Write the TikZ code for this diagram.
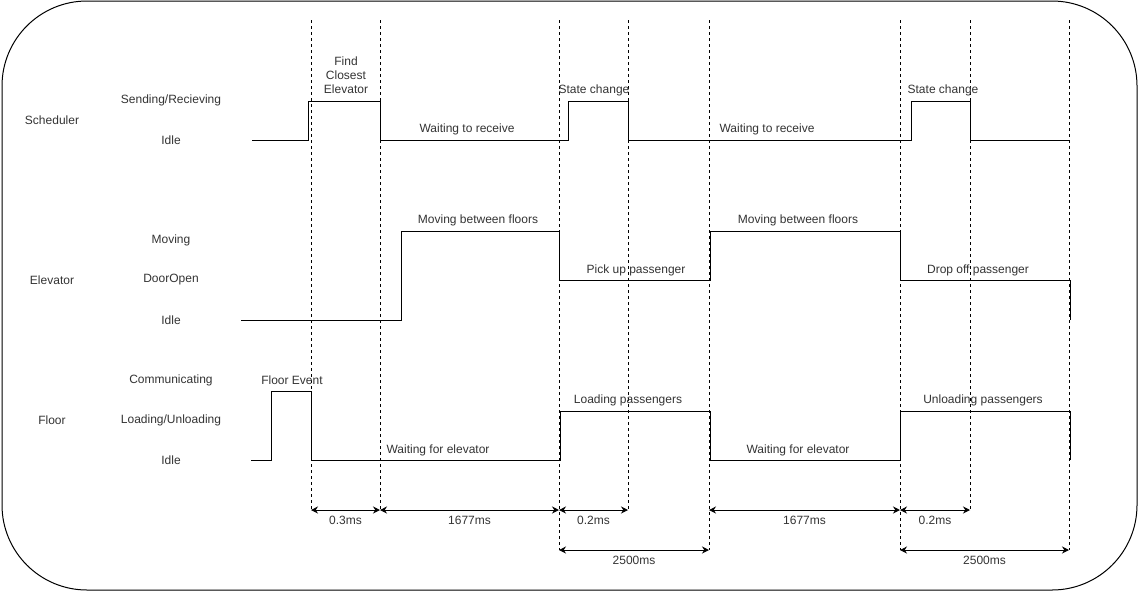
\documentclass[tikz,border=0pt]{standalone}
\usepackage{fontspec}
\setmainfont{Liberation Sans}
\usetikzlibrary{arrows.meta}
\begin{document}
\begin{tikzpicture}[x=1pt, y=-1pt,
    lbl/.style={font=\fontsize{12}{14}\selectfont, text=black!80, inner sep=0pt, align=center},
    sig/.style={line width=1pt, line join=miter},
    guide/.style={dash pattern=on 3pt off 3pt, line width=0.8pt},
    dim/.style={{Stealth[length=7pt,width=7pt]}-{Stealth[length=7pt,width=7pt]}, line width=1pt}]

    \useasboundingbox (0,0) rectangle (1139,592);

    % Frame
    \draw[line width=1pt, rounded corners=85pt] (2,1) rectangle (1137,590);

    % Row names
    \node[lbl] (sched) at (52,120) {Scheduler};
    \node[lbl] (elev) at (52,280) {Elevator};
    \node[lbl] (floor) at (52,420) {Floor};

    % States
    \node[lbl] (ssend) at (171,100) {Sending/Recieving};
    \node[lbl] (sidle) at (171,140) {Idle};
    \node[lbl] (emove) at (171,240) {Moving};
    \node[lbl] (edoor) at (171,280) {DoorOpen};
    \node[lbl] (eidle) at (171,320) {Idle};
    \node[lbl] (fcomm) at (171,380) {Communicating};
    \node[lbl] (fload) at (171,420) {Loading/Unloading};
    \node[lbl] (fidle) at (171,460) {Idle};

    % Time markers
    \foreach \x/\len [count=\i] in {311/510, 380/510, 559/550, 628/510, 709/550, 900/550, 970/510, 1069/550} {
        \coordinate (top\i) at (\x,20);
        \coordinate (bot\i) at (\x,510);
        \coordinate (low\i) at (\x,550);
        \draw[guide] (top\i) -- (\x,\len);
    }

    % Scheduler
    \draw[sig] (252,140) -| (308,101) -| (380,140) -| (568,101) -| (628,140)
        -| (911,101) -| (970,140) -- (1069,140);
    \node[lbl] (find) at (346,75) {Find\\Closest\\Elevator};
    \node[lbl] (wait1) at (467,129) {Waiting to receive};
    \node[lbl] (chg1) at (594,90) {State change};
    \node[lbl] (wait2) at (767,129) {Waiting to receive};
    \node[lbl] (chg2) at (943,90) {State change};

    % Elevator
    \draw[sig] (241,320) -| (401,231) -| (559,280) -| (710,231) -| (900,280) -| (1070,320);
    \node[lbl] (move1) at (478,220) {Moving between floors};
    \node[lbl] (pick) at (636,270) {Pick up passenger};
    \node[lbl] (move2) at (798,220) {Moving between floors};
    \node[lbl] (drop) at (978,270) {Drop off passenger};

    % Floor
    \draw[sig] (251,460) -| (271,391) -| (311,460) -| (560,411) -| (710,460)
        -| (900,411) -| (1070,460);
    \node[lbl] (event) at (292,380) {Floor Event};
    \node[lbl] (wfe1) at (438,450) {Waiting for elevator};
    \node[lbl] (loadp) at (628,400) {Loading passengers};
    \node[lbl] (wfe2) at (798,450) {Waiting for elevator};
    \node[lbl] (unload) at (983,400) {Unloading passengers};

    % Durations
    \draw[dim] (bot1) -- node[lbl, yshift=-10pt] {0.3ms} (bot2);
    \draw[dim] (bot2) -- node[lbl, yshift=-10pt] {1677ms} (bot3);
    \draw[dim] (bot3) -- node[lbl, yshift=-10pt] {0.2ms} (bot4);
    \draw[dim] (low3) -- node[lbl, yshift=-10pt] {2500ms} (low5);
    \draw[dim] (bot5) -- node[lbl, yshift=-10pt] {1677ms} (bot6);
    \draw[dim] (bot6) -- node[lbl, yshift=-10pt] {0.2ms} (bot7);
    \draw[dim] (low6) -- node[lbl, yshift=-10pt] {2500ms} (low8);
\end{tikzpicture}
\end{document}
